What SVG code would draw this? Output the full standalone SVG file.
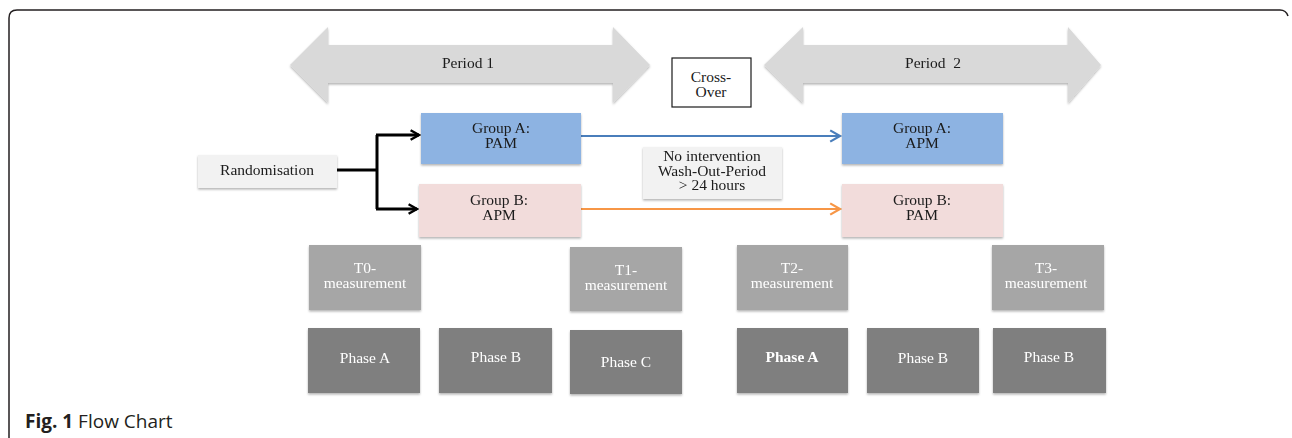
<svg xmlns="http://www.w3.org/2000/svg" width="1292" height="438" viewBox="0 0 1292 438">
<style>
.t{font-family:"Liberation Serif","Times New Roman",serif;font-size:15.5px;fill:#1a1a1a;text-anchor:middle}
.w{fill:#ffffff}
.cap{font-family:"Open Sans","Noto Sans",sans-serif;font-size:19px;fill:#231f20}
.box{filter:url(#sh)}
</style>
<defs>
<filter id="sh" x="-10%" y="-10%" width="120%" height="130%">
<feDropShadow dx="0" dy="1.5" stdDeviation="1" flood-color="#000" flood-opacity="0.3"/>
</filter>
<marker id="ak" viewBox="0 0 10 10" refX="8" refY="5" markerWidth="4" markerHeight="4" orient="auto" markerUnits="strokeWidth">
<path d="M1,1 L8,5 L1,9" fill="none" stroke="#000" stroke-width="2"/>
</marker>
<marker id="ab" viewBox="0 0 10 10" refX="8" refY="5" markerWidth="7" markerHeight="7" orient="auto" markerUnits="strokeWidth">
<path d="M1,1 L8,5 L1,9" fill="none" stroke="#4a7ebb" stroke-width="1.6"/>
</marker>
<marker id="ao" viewBox="0 0 10 10" refX="8" refY="5" markerWidth="7" markerHeight="7" orient="auto" markerUnits="strokeWidth">
<path d="M1,1 L8,5 L1,9" fill="none" stroke="#f79646" stroke-width="1.6"/>
</marker>
</defs>
<rect width="1292" height="438" fill="#ffffff"/>
<path d="M9,438 L9,18 Q9,10 17,10 L1280,10 Q1286,10 1288,16" fill="none" stroke="#231f20" stroke-width="1.5"/>

<g id="period1" class="box">
<polygon points="290,65 328,27 328,45 613,45 613,27 650,65 613,103 613,83 328,83 328,103" fill="#d9d9d9"/>
<text class="t" x="468" y="68">Period 1</text>
</g>
<g id="period2" class="box">
<polygon points="764,65 803,27 803,45 1068,45 1068,27 1101,65 1068,103 1068,83 803,83 803,103" fill="#d9d9d9"/>
<text class="t" x="933" y="68" xml:space="preserve">Period  2</text>
</g>
<g id="crossover">
<rect x="672" y="58" width="79" height="49" fill="#ffffff" stroke="#1a1a1a" stroke-width="1.2"/>
<text class="t" x="711" y="82">Cross-</text>
<text class="t" x="711" y="97">Over</text>
</g>

<g id="connectors" fill="none">
<path d="M337,170 L377,170 M377,135 L377,209" stroke="#000" stroke-width="3"/>
<path d="M376,135 L419,135" stroke="#000" stroke-width="3" marker-end="url(#ak)"/>
<path d="M376,209 L417,209" stroke="#000" stroke-width="3" marker-end="url(#ak)"/>
<path d="M581,136 L840,136" stroke="#4a7ebb" stroke-width="2" marker-end="url(#ab)"/>
<path d="M581,209 L840,209" stroke="#f79646" stroke-width="2" marker-end="url(#ao)"/>
</g>

<g id="randomisation" class="box">
<rect x="198" y="155" width="139" height="33" fill="#f2f2f2"/>
<text class="t" x="267" y="175">Randomisation</text>
</g>
<g id="groupA1" class="box">
<rect x="421" y="113" width="160" height="51" fill="#8db3e2"/>
<text class="t" x="501" y="133">Group A:</text>
<text class="t" x="501" y="148">PAM</text>
</g>
<g id="groupB1" class="box">
<rect x="419" y="184" width="162" height="53" fill="#f2dcdb"/>
<text class="t" x="499" y="205">Group B:</text>
<text class="t" x="499" y="220">APM</text>
</g>
<g id="washout" class="box">
<rect x="643" y="147" width="139" height="52" fill="#f2f2f2"/>
<text class="t" x="712" y="161">No intervention</text>
<text class="t" x="712" y="175.5">Wash-Out-Period</text>
<text class="t" x="712" y="190">&gt; 24 hours</text>
</g>
<g id="groupA2" class="box">
<rect x="842" y="113" width="161" height="51" fill="#8db3e2"/>
<text class="t" x="922" y="133">Group A:</text>
<text class="t" x="922" y="148">APM</text>
</g>
<g id="groupB2" class="box">
<rect x="842" y="184" width="161" height="53" fill="#f2dcdb"/>
<text class="t" x="922" y="205">Group B:</text>
<text class="t" x="922" y="220">PAM</text>
</g>

<g id="t0" class="box">
<rect x="309" y="245" width="112" height="65" fill="#a6a6a6"/>
<text class="t w" x="365" y="273">T0-</text>
<text class="t w" x="365" y="288">measurement</text>
</g>
<g id="t1" class="box">
<rect x="570" y="247" width="112" height="64" fill="#a6a6a6"/>
<text class="t w" x="626" y="275">T1-</text>
<text class="t w" x="626" y="290">measurement</text>
</g>
<g id="t2" class="box">
<rect x="737" y="245" width="111" height="65" fill="#a6a6a6"/>
<text class="t w" x="792" y="273">T2-</text>
<text class="t w" x="792" y="288">measurement</text>
</g>
<g id="t3" class="box">
<rect x="992" y="245" width="112" height="65" fill="#a6a6a6"/>
<text class="t w" x="1046" y="273">T3-</text>
<text class="t w" x="1046" y="288">measurement</text>
</g>

<g id="phaseA1" class="box">
<rect x="308" y="328" width="112" height="65" fill="#7f7f7f"/>
<text class="t w" x="365" y="363">Phase A</text>
</g>
<g id="phaseB1" class="box">
<rect x="439" y="328" width="113" height="65" fill="#7f7f7f"/>
<text class="t w" x="496" y="362">Phase B</text>
</g>
<g id="phaseC1" class="box">
<rect x="570" y="330" width="112" height="64" fill="#7f7f7f"/>
<text class="t w" x="626" y="367">Phase C</text>
</g>
<g id="phaseA2" class="box">
<rect x="737" y="328" width="111" height="65" fill="#7f7f7f"/>
<text class="t w" x="792" y="362" font-weight="bold">Phase A</text>
</g>
<g id="phaseB2" class="box">
<rect x="867" y="328" width="112" height="65" fill="#7f7f7f"/>
<text class="t w" x="923" y="363">Phase B</text>
</g>
<g id="phaseB3" class="box">
<rect x="993" y="328" width="113" height="65" fill="#7f7f7f"/>
<text class="t w" x="1049" y="362">Phase B</text>
</g>

<text class="cap" x="25" y="428"><tspan font-weight="bold">Fig. 1</tspan> Flow Chart</text>
</svg>
